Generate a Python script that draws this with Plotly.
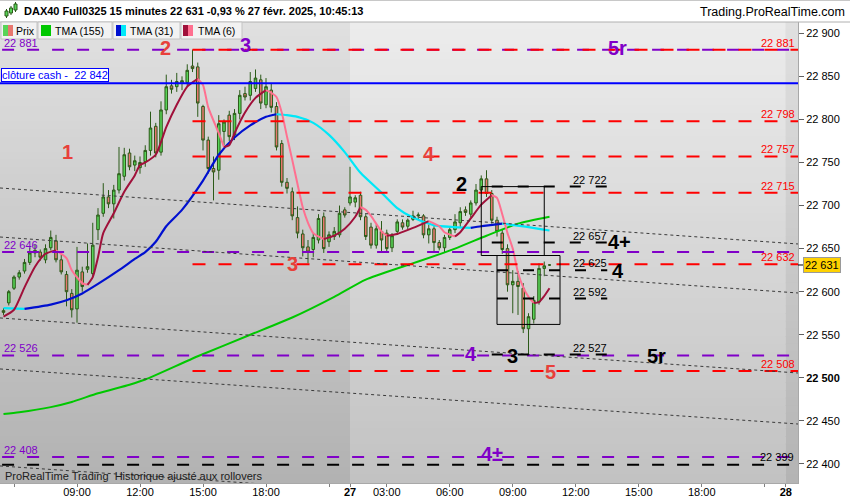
import plotly.graph_objects as go

FONT = "Liberation Sans, Arial, sans-serif"

# ------------------------------------------------------------------ data
candle_start = "26 05:30"
opens = [22578, 22587, 22604, 22617, 22624, 22634, 22645, 22646, 22637, 22651, 22659, 22637, 22620, 22598,
         22580, 22623, 22626, 22621, 22672, 22691, 22710, 22702, 22718, 22734, 22761, 22747, 22744, 22751,
         22764, 22792, 22762, 22811, 22839, 22838, 22842, 22843, 22862, 22861, 22815, 22776, 22743, 22741,
         22786, 22805, 22782, 22807, 22830, 22828, 22836, 22846, 22817, 22834, 22815, 22772, 22727, 22716,
         22686, 22667, 22652, 22649, 22660, 22687, 22658, 22664, 22666, 22695,
         22703, 22704, 22712, 22687, 22675, 22654, 22670, 22668, 22651, 22670, 22680, 22676, 22684, 22688,
         22688, 22666, 22673, 22657, 22651, 22663, 22672, 22680, 22695, 22690, 22703, 22718, 22731, 22714,
         22683, 22668, 22650, 22608, 22612, 22604, 22557, 22568, 22588, 22627, 22631]
highs = [22581, 22602, 22619, 22625, 22638, 22651, 22655, 22649, 22655, 22671, 22666, 22643, 22624, 22603,
         22652, 22629, 22656, 22680, 22697, 22726, 22718, 22724, 22768, 22767, 22766, 22758, 22757, 22770,
         22809, 22796, 22821, 22852, 22846, 22854, 22850, 22864, 22881, 22866, 22817, 22780, 22757, 22805,
         22800, 22810, 22812, 22834, 22838, 22855, 22858, 22852, 22848, 22842, 22820, 22776, 22732, 22721,
         22699, 22672, 22660, 22668, 22690, 22692, 22670, 22675, 22700, 22698,
         22745, 22712, 22716, 22690, 22680, 22678, 22682, 22672, 22668, 22684, 22684, 22685, 22694, 22692,
         22690, 22678, 22676, 22660, 22666, 22675, 22690, 22698, 22699, 22706, 22725, 22735, 22741, 22718,
         22687, 22672, 22655, 22625, 22624, 22610, 22575, 22595, 22633, 22635, 22632]
lows = [22573, 22584, 22602, 22614, 22621, 22631, 22640, 22636, 22633, 22648, 22634, 22620, 22583, 22570,
        22564, 22600, 22622, 22618, 22660, 22687, 22697, 22685, 22714, 22729, 22741, 22740, 22737, 22745,
        22758, 22756, 22758, 22806, 22830, 22832, 22834, 22838, 22855, 22803, 22764, 22737, 22706, 22730,
        22770, 22775, 22776, 22800, 22822, 22822, 22832, 22812, 22813, 22808, 22764, 22722, 22714, 22683,
        22662, 22641, 22633, 22640, 22656, 22645, 22652, 22660, 22663, 22686,
        22700, 22698, 22683, 22660, 22650, 22650, 22645, 22645, 22646, 22666, 22672, 22672, 22682, 22684,
        22662, 22656, 22645, 22648, 22646, 22660, 22668, 22674, 22688, 22686, 22700, 22714, 22710, 22679,
        22664, 22644, 22600, 22575, 22573, 22552, 22527, 22563, 22585, 22618, 22630]
closes = [22576, 22600, 22617, 22622, 22634, 22645, 22648, 22640, 22650, 22663, 22637, 22623, 22600, 22579,
          22625, 22606, 22629, 22654, 22689, 22710, 22702, 22718, 22737, 22759, 22745, 22752, 22750, 22764,
          22790, 22761, 22811, 22838, 22835, 22844, 22845, 22857, 22859, 22819, 22776, 22743, 22739, 22795,
          22797, 22780, 22807, 22828, 22826, 22844, 22848, 22819, 22838, 22814, 22768, 22727, 22720, 22688,
          22668, 22651, 22646, 22663, 22685, 22650, 22666, 22670, 22691, 22689,
          22710, 22709, 22687, 22664, 22654, 22673, 22660, 22650, 22665, 22681, 22675, 22683, 22688, 22689,
          22666, 22673, 22657, 22651, 22663, 22672, 22681, 22693, 22692, 22703, 22718, 22731, 22714, 22683,
          22670, 22649, 22608, 22612, 22606, 22557, 22571, 22590, 22627, 22630, 22631]

tma155_t = ["26 05:30", "26 06:15", "26 07:45", "26 08:45", "26 10:00", "26 11:30", "26 12:15", "26 14:45",
            "26 17:15", "26 19:15", "26 21:15", "27 02:00", "27 03:45", "27 04:30", "27 06:15", "27 07:45",
            "27 09:15", "27 10:45"]
tma155_v = [22458, 22460, 22466, 22472, 22482, 22492, 22498, 22525, 22550, 22570, 22594, 22614, 22629,
            22635, 22650, 22665, 22679, 22687]

tma31_t = ["26 05:30", "26 06:30", "26 07:45", "26 08:30", "26 09:15", "26 10:00", "26 11:00", "26 11:45",
           "26 12:15", "26 12:45", "26 13:15", "26 14:00", "26 15:00", "26 15:45", "26 16:30", "26 17:15",
           "26 18:00", "26 18:30", "26 19:00", "26 19:30", "26 20:15", "26 21:00", "26 21:45", "27 01:45",
           "27 02:45", "27 03:30", "27 04:15", "27 05:15", "27 06:15", "27 07:00", "27 07:30", "27 08:30",
           "27 09:45", "27 10:45"]
tma31_v = [22581, 22580, 22585, 22590, 22598, 22609, 22625, 22638, 22646, 22658, 22676, 22695, 22729,
           22759, 22779, 22793, 22803, 22806, 22805, 22803, 22796, 22782, 22762, 22738, 22715, 22697,
           22686, 22677, 22675, 22674, 22676, 22679, 22675, 22671]

tma6_t = ["26 05:30", "26 06:00", "26 06:30", "26 07:00", "26 07:30", "26 08:00", "26 08:30", "26 08:45",
          "26 09:15", "26 09:30", "26 09:45", "26 10:00", "26 10:15", "26 10:45", "26 11:15", "26 11:45",
          "26 12:00", "26 12:15", "26 12:45", "26 13:15", "26 13:45", "26 14:15", "26 14:45", "26 15:00",
          "26 15:15", "26 15:45", "26 16:00", "26 16:15", "26 16:30", "26 17:00", "26 17:30", "26 18:00",
          "26 18:15", "26 18:30", "26 18:45", "26 19:00", "26 19:15", "26 19:30", "26 19:45", "26 20:00",
          "26 20:15", "26 20:45", "26 21:15", "26 21:45", "27 01:30", "27 01:45", "27 02:00", "27 02:15",
          "27 02:45", "27 03:00", "27 03:30", "27 04:15", "27 05:00", "27 05:30", "27 05:45", "27 06:15",
          "27 06:30", "27 07:00", "27 07:30", "27 08:00", "27 08:15", "27 08:30", "27 08:45", "27 09:00",
          "27 09:15", "27 09:30", "27 09:45", "27 10:00", "27 10:15", "27 10:30", "27 10:45"]
tma6_v = [22571, 22579, 22605, 22629, 22644, 22648, 22639, 22625, 22610, 22608, 22617, 22640, 22668,
          22691, 22716, 22735, 22747, 22750, 22759, 22791, 22817, 22838, 22847, 22840, 22814, 22784,
          22768, 22770, 22784, 22808, 22825, 22834, 22831, 22826, 22808, 22780, 22753, 22725, 22698,
          22680, 22668, 22661, 22665, 22673, 22687, 22698, 22695, 22688, 22670, 22665, 22667, 22674,
          22682, 22676, 22669, 22664, 22669, 22685, 22701, 22712, 22709, 22690, 22668, 22650, 22622,
          22605, 22594, 22587, 22588, 22595, 22604]

purple_levels = [22881, 22646, 22526, 22408]
purple_labels = ["22 881", "22 646", "22 526", "22 408"]
red_levels = [22881, 22798, 22757, 22715, 22632, 22508]
red_labels = ["22 881", "22 798", "22 757", "22 715", "22 632", "22 508"]
red_levels_start = "26 14:30"
black_level = 22399
black_label = "22 399"
cash_close = 22842
cash_label = "clôture cash -\u00a0 22 842"
box_levels = [22722, 22657, 22625, 22592, 22527]
box_level_labels = ["22 722", "22 657", "22 625", "22 592", "22 527"]
box_levels_start = ["27 08:00", "27 08:00", "27 08:15", "27 08:15", "27 08:00"]
box_levels_end = "27 13:30"
box_start = ["27 07:30", "27 08:15"]
box_end = ["27 10:30", "27 11:15"]
box_low = [22642, 22562]
box_high = [22722, 22642]
trend_left = [22720.4, 22663.5, 22569.5, 22510.3, 22397.7]
trend_right = [22655.4, 22598.5, 22505.6, 22446.4, 22333.9]
last_price = 22631
last_label = "22 631"

x_tick_times = ["26 06:00", "26 09:00", "26 12:00", "26 15:00", "26 18:00", "26 21:00", "27 01:15",
                "27 03:00", "27 06:00", "27 09:00", "27 12:00", "27 15:00", "27 18:00", "27 21:00", "28 01:15"]
x_tick_text = ["", "09:00", "12:00", "15:00", "18:00", "", "<b>27</b>", "03:00", "06:00", "09:00",
               "12:00", "15:00", "18:00", "", "<b>28</b>"]
y_tick_vals = [22400, 22450, 22500, 22550, 22600, 22650, 22700, 22750, 22800, 22850, 22900]
y_tick_text = ["22 400", "22 450", "<b>22 500</b>", "22 550", "22 600", "22 650", "22 700", "22 750",
               "22 800", "22 850", "22 900"]

title_text = "DAX40 Full0325 15 minutes 22 631 -0,93 % 27 févr. 2025, 10:45:13"

# ------------------------------------------------------------------ calendar
def session(day):
    return [f"{day} {m // 60:02d}:{m % 60:02d}" for m in range(75, 22 * 60, 15)]

calendar = session(26) + session(27) + session(28)
pos = {t: i for i, t in enumerate(calendar)}
c0 = pos[candle_start]
candle_x = list(range(c0, c0 + len(opens)))

# ------------------------------------------------------------------ geometry
W, H = 850, 500
PL, PR, PT, PB = 0, 798, 22, 483
X0, X1 = 16.333, 168.333
Y0, Y1 = 22377.9, 22913.1

def px(x):
    return (x - PL) / (PR - PL)

def py(y):
    return (PB - y) / (PB - PT)

RED = "#ff0000"
LRED = "#e8403a"
PURPLE = "#8000c8"
BLUE = "#0000ff"

fig = go.Figure()

# ------------------------------------------------------------------ background gradient
shapes = []
def band_fill(x_a, x_b, top, bot, n=60):
    for k in range(n):
        f = k / (n - 1)
        c = [round(top[j] + (bot[j] - top[j]) * f) for j in range(3)]
        shapes.append(dict(type="rect", xref="x", yref="paper", x0=x_a, x1=x_b,
                           y0=1 - (k + 1) / n, y1=1 - k / n + 0.002,
                           fillcolor=f"rgb({c[0]},{c[1]},{c[2]})", line=dict(width=0), layer="below"))

band_fill(X0 - 1, pos["27 01:15"], (224, 224, 224), (178, 178, 178))
band_fill(pos["27 01:15"], pos["28 01:15"], (236, 236, 236), (194, 194, 194))
band_fill(pos["28 01:15"], X1 + 1, (224, 224, 224), (180, 180, 180))

# ------------------------------------------------------------------ traces
fig.add_trace(go.Candlestick(
    x=candle_x, open=opens, high=highs, low=lows, close=closes,
    increasing=dict(fillcolor="#58d458", line=dict(color="#2b5a18", width=1)),
    decreasing=dict(fillcolor="#e8776f", line=dict(color="#2b5a18", width=1)),
    whiskerwidth=0, showlegend=False, hoverinfo="skip"))


def colored_segments(ts, vs, up_col, dn_col, width):
    xs = [pos[t] for t in ts]
    n = len(vs)
    k = 0
    while k < n - 1:
        d = vs[k + 1] >= vs[k]
        j = k
        while j < n - 1 and (vs[j + 1] >= vs[j]) == d:
            j += 1
        fig.add_trace(go.Scatter(x=xs[k:j + 1], y=vs[k:j + 1], mode="lines",
                                 line=dict(color=up_col if d else dn_col, width=width,
                                           shape="spline", smoothing=0.6),
                                 hoverinfo="skip", showlegend=False))
        k = j

fig.add_trace(go.Scatter(x=[pos[t] for t in tma155_t], y=tma155_v, mode="lines",
                         line=dict(color="#00c800", width=2, shape="spline", smoothing=0.6),
                         hoverinfo="skip", showlegend=False))
colored_segments(tma31_t, tma31_v, "#0010d0", "#00e8f8", 2.2)
colored_segments(tma6_t, tma6_v, "#a0103a", "#ff7090", 2)

# ------------------------------------------------------------------ level lines
for p in purple_levels:
    shapes.append(dict(type="line", xref="x", yref="y", x0=X0 + 0.4, x1=X1, y0=p, y1=p,
                       line=dict(color=PURPLE, width=2, dash="12px,13px")))
for p in red_levels:
    shapes.append(dict(type="line", xref="x", yref="y", x0=pos[red_levels_start], x1=X1, y0=p, y1=p,
                       line=dict(color=RED, width=2, dash="13px,13px")))
shapes.append(dict(type="line", xref="x", yref="y", x0=X0 + 0.4, x1=X1, y0=black_level, y1=black_level,
                   line=dict(color="#000000", width=2, dash="12px,13px")))
shapes.append(dict(type="line", xref="x", yref="y", x0=X0, x1=X1, y0=cash_close, y1=cash_close,
                   line=dict(color=BLUE, width=2)))
for a, b in zip(trend_left, trend_right):
    shapes.append(dict(type="line", xref="x", yref="y", x0=X0, x1=X1, y0=a, y1=b,
                       line=dict(color="#3a3a3a", width=1, dash="3px,3px")))
for s, e, lo, hi in zip(box_start, box_end, box_low, box_high):
    shapes.append(dict(type="rect", xref="x", yref="y", x0=pos[s], x1=pos[e], y0=lo, y1=hi,
                       line=dict(color="#000000", width=1)))
for p, s in zip(box_levels, box_levels_start):
    shapes.append(dict(type="line", xref="x", yref="y", x0=pos[s], x1=pos[box_levels_end], y0=p, y1=p,
                       line=dict(color="#000000", width=2, dash="11px,15px")))

# last price tick
shapes.append(dict(type="line", xref="paper", yref="y", x0=px(798), x1=px(803), y0=last_price,
                   y1=last_price, line=dict(color="#000000", width=1)))

# ------------------------------------------------------------------ header & legend
shapes.append(dict(type="rect", xref="paper", yref="paper", x0=px(0), x1=px(850), y0=py(22), y1=py(0),
                   fillcolor="#ffffff", line=dict(width=0)))
shapes.append(dict(type="line", xref="paper", yref="paper", x0=px(0), x1=px(850), y0=py(0.5), y1=py(0.5),
                   line=dict(color="#c8c8c8", width=1)))
shapes.append(dict(type="line", xref="paper", yref="paper", x0=px(0), x1=px(850), y0=py(22), y1=py(22),
                   line=dict(color="#b0b0b0", width=1)))
# header icon
for (xa, xb, ya, yb, wa, wb) in [(5, 8, 11, 16, 9, 18), (9.5, 12.5, 8, 13, 6, 15), (14, 17, 4, 10, 2, 12)]:
    shapes.append(dict(type="line", xref="paper", yref="paper", x0=px((xa + xb) / 2), x1=px((xa + xb) / 2),
                       y0=py(wa), y1=py(wb), line=dict(color="#2b5a18", width=1)))
    shapes.append(dict(type="rect", xref="paper", yref="paper", x0=px(xa), x1=px(xb), y0=py(yb), y1=py(ya),
                       fillcolor="#58d458", line=dict(color="#2b5a18", width=1)))

legend_boxes = [(1, 37), (38, 112), (113, 180), (181, 242)]
for xa, xb in legend_boxes:
    shapes.append(dict(type="rect", xref="paper", yref="paper", x0=px(xa), x1=px(xb), y0=py(39), y1=py(22),
                       fillcolor="#f2f2f2", line=dict(color="#c4c4c4", width=1)))
legend_icons = [(3, "#58d458", "#e8776f"), (41, "#00c800", "#00c800"), (116, "#0010d0", "#00e8f8"),
                (183, "#a0103a", "#ff7090")]
for xa, c1, c2 in legend_icons:
    shapes.append(dict(type="rect", xref="paper", yref="paper", x0=px(xa), x1=px(xa + 5), y0=py(36),
                       y1=py(25), fillcolor=c1, line=dict(width=0)))
    shapes.append(dict(type="rect", xref="paper", yref="paper", x0=px(xa + 5), x1=px(xa + 10), y0=py(36),
                       y1=py(25), fillcolor=c2, line=dict(width=0)))

ann = []
def text(t, x, y, size=11, color="#000000", xanchor="left", yanchor="middle", bold=False, **kw):
    ann.append(dict(text=t, x=x, y=y, xref=kw.pop("xref", "paper"), yref=kw.pop("yref", "paper"),
                    xanchor=xanchor, yanchor=yanchor, showarrow=False,
                    font=dict(family=FONT, size=size, color=color, weight="bold" if bold else "normal"),
                    **kw))

text(title_text, px(22), py(11.5), size=11, bold=True)
text("Trading.ProRealTime.com", px(847), py(12), size=12.5, xanchor="right")
for t, x in [("Prix", 14), ("TMA (155)", 53), ("TMA (31)", 128), ("TMA (6)", 196)]:
    text(t, px(x), py(31), size=10.5)

# level labels
for p, lab in zip(purple_levels, purple_labels):
    text(lab, px(2), p, size=11, color=PURPLE, yanchor="bottom", yref="y", yshift=-1)
for p, lab in zip(red_levels, red_labels):
    text(lab, px(797), p, size=11, color=RED, xanchor="right", yanchor="bottom", yref="y", yshift=-1)
text(black_label, px(796), black_level, size=11, color="#000000", xanchor="right", yanchor="bottom",
     yref="y", yshift=0)
for p, lab in zip(box_levels, box_level_labels):
    text(lab, pos[box_levels_end] - 6.9, p, size=11, color="#000000", yanchor="bottom", xref="x",
         yref="y", yshift=-1)
text(cash_label, px(1), cash_close, size=11, color=BLUE, yanchor="bottom", yref="y", yshift=1,
     bgcolor="#ffffff", bordercolor=BLUE, borderwidth=1, borderpad=0)
text(last_label, px(803), last_price, size=11, color="#000000", yref="y", bgcolor="#ffd200",
     bordercolor="#9a9a9a", borderwidth=1, borderpad=1)
text("ProRealTime Trading  Historique ajusté aux rollovers", px(3), py(476), size=11, color="#202020")

big_labels = [("1", LRED, 67, 150), ("2", LRED, 165, 47), ("3", PURPLE, 245, 44), ("5r", PURPLE, 617, 47),
              ("4", LRED, 429, 152), ("2", "#000000", 461, 182), ("3", LRED, 292, 262),
              ("4+", "#000000", 619, 240), ("4", "#000000", 618, 269), ("4", PURPLE, 471, 352),
              ("3", "#000000", 512, 354), ("5r", "#000000", 656, 354), ("5", LRED, 550, 370),
              ("4±", PURPLE, 492, 452)]
for t, c, x, y in big_labels:
    text(t, px(x), py(y + 1.5), size=20, color=c, xanchor="center", bold=True)

# ------------------------------------------------------------------ layout
fig.update_layout(
    width=W, height=H, autosize=False,
    margin=dict(l=PL, r=W - PR, t=PT, b=H - PB, pad=0),
    paper_bgcolor="#ffffff", plot_bgcolor="#d8d8d8",
    showlegend=False, shapes=shapes, annotations=ann,
    font=dict(family=FONT, size=11, color="#000000"),
    xaxis=dict(type="linear", range=[X0, X1], showgrid=False, zeroline=False,
               rangeslider=dict(visible=False), tickmode="array",
               tickvals=[pos[t] for t in x_tick_times], ticktext=x_tick_text,
               ticks="outside", ticklen=3, tickcolor="#808080", showline=True, linecolor="#a8a8a8",
               ticklabelstandoff=-4,
               tickfont=dict(family=FONT, size=11, color="#000000"), automargin=False, fixedrange=True),
    yaxis=dict(side="right", range=[Y0, Y1], showgrid=False, zeroline=False, tickmode="array",
               tickvals=y_tick_vals, ticktext=y_tick_text, ticks="outside", ticklen=5,
               tickcolor="#606060", showline=True, linecolor="#a8a8a8",
               tickfont=dict(family=FONT, size=11, color="#000000"), automargin=False, fixedrange=True),
)

fig.write_html("out.html", config={"displayModeBar": False},
               post_script="document.body.style.margin='0px';document.body.style.overflow='hidden';")
